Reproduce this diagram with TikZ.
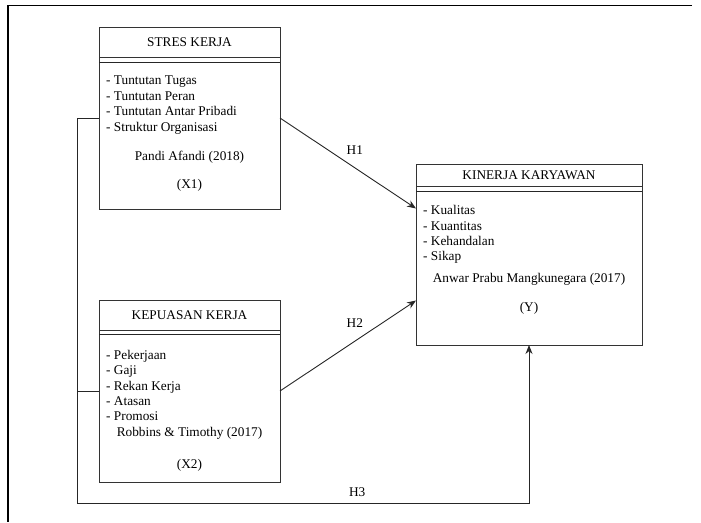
\documentclass[tikz,border=0pt]{standalone}
\usepackage{fontspec}
\setmainfont{Liberation Serif}
\usetikzlibrary{positioning, arrows.meta}

\begin{document}
\begin{tikzpicture}[
  x=1pt, y=-1pt,
  varbox/.style={
    rectangle,
    draw=black!80,
    line width=0.9pt,
    minimum width=181pt,
    minimum height=182pt,
    inner sep=0pt,
    outer sep=0pt
  },
  head/.style={
    rectangle,
    draw=black!80,
    line width=0.9pt,
    minimum width=181pt,
    minimum height=30pt,
    inner sep=0pt,
    outer sep=0pt,
    font=\fontsize{13.3}{15.5}\selectfont
  },
  items/.style={
    anchor=west,
    align=left,
    inner sep=0pt,
    font=\fontsize{13.3}{15.4}\selectfont
  },
  txt/.style={inner sep=0pt, font=\fontsize{13.3}{15.5}\selectfont},
  arrow/.style={-{Stealth[length=9pt, width=7pt]}, line width=0.9pt, draw=black!85},
  link/.style={line width=0.9pt, draw=black!85}
]
\useasboundingbox (0,0) rectangle (701,522);

% frame
\draw[line width=1.2pt] (692,5.5) -- (8,5.5) -- (8,522);

% variables
\node[varbox] (x1) at (189.5,118) {};
\node[varbox, below=91pt of x1] (x2) {};
\node[varbox, minimum width=226pt, minimum height=181pt] (y) at (529,254.5) {};

\node[head, below=0pt of x1.north] (x1head) {STRES KERJA};
\node[head, below=0pt of x2.north] (x2head) {KEPUASAN KERJA};
\node[head, minimum width=226pt, minimum height=22pt, below=0pt of y.north] (yhead) {KINERJA KARYAWAN};

\draw[link] ([yshift=-5pt]x1head.south west) -- ([yshift=-5pt]x1head.south east);
\draw[link] ([yshift=-4pt]x2head.south west) -- ([yshift=-4pt]x2head.south east);
\draw[link] ([yshift=-5pt]yhead.south west) -- ([yshift=-5pt]yhead.south east);

% indicators
\node[items] (x1list) at ([xshift=7pt, yshift=-78pt]x1.north west) {- Tuntutan Tugas\\- Tuntutan Peran\\- Tuntutan Antar Pribadi\\- Struktur Organisasi};
\node[txt] (x1ref) at ([yshift=-130pt]x1.north) {Pandi Afandi (2018)};
\node[txt] (x1var) at ([yshift=24pt]x1.south) {(X1)};

\node[items] (x2list) at ([xshift=7pt, yshift=-85.5pt]x2.north west) {- Pekerjaan\\- Gaji\\- Rekan Kerja\\- Atasan\\- Promosi};
\node[txt] (x2ref) at ([yshift=-133pt]x2.north) {Robbins \& Timothy (2017)};
\node[txt] (x2var) at ([yshift=17pt]x2.south) {(X2)};

\node[items] (ylist) at ([xshift=7pt, yshift=-70.5pt]y.north west) {- Kualitas\\- Kuantitas\\- Kehandalan\\- Sikap};
\node[txt] (yref) at ([yshift=-115pt]y.north) {Anwar Prabu Mangkunegara (2017)};
\node[txt] (yvar) at ([yshift=37pt]y.south) {(Y)};

% hypotheses
\coordinate (loop) at (77,503);
\draw[arrow] (x1.east) -- node[pos=0.55, above=13pt, txt] (h1) {H1} ([yshift=46pt]y.west);
\draw[arrow] (x2.east) -- node[pos=0.55, above=13pt, txt] (h2) {H2} ([yshift=-46pt]y.west);
\draw[link] (x2.west) -- (x2.west -| loop);
\draw[arrow] (x1.west) -| (loop) -| node[pos=0.31, above=6pt, txt] (h3) {H3} (y.south);

\end{tikzpicture}
\end{document}
